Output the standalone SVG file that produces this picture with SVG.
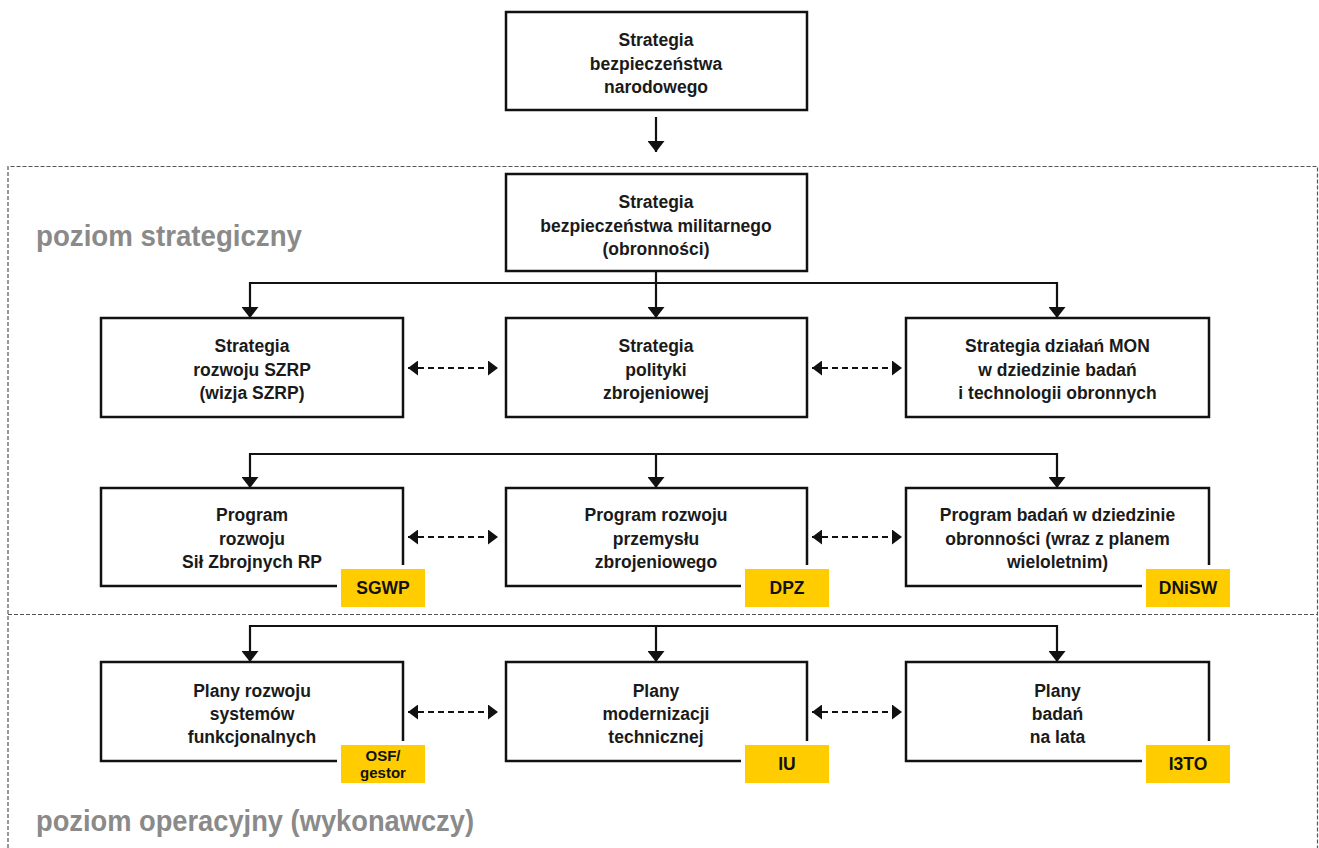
<svg xmlns="http://www.w3.org/2000/svg" width="1319" height="848" viewBox="0 0 1319 848">
<style>
  .box { fill: #ffffff; stroke: #111111; stroke-width: 2.5; }
  .t { font-family: "Liberation Sans", Arial, sans-serif; font-weight: bold; font-size: 17.5px; fill: #1a1a1a; text-anchor: middle; }
  .tag { fill: #FFCC00; stroke: #ffffff; stroke-width: 4; }
  .tagt { font-family: "Liberation Sans", Arial, sans-serif; font-weight: bold; font-size: 17.5px; fill: #111111; text-anchor: middle; }
  .tags { font-family: "Liberation Sans", Arial, sans-serif; font-weight: bold; font-size: 15px; fill: #111111; text-anchor: middle; }
  .lvl { font-family: "Liberation Sans", Arial, sans-serif; font-weight: bold; font-size: 30px; fill: #8a8a8a; }
  .solid { fill: none; stroke: #111111; stroke-width: 2.2; }
  .arr { fill: none; stroke: #111111; stroke-width: 2.2; marker-end: url(#ah); }
  .dash { fill: none; stroke: #111111; stroke-width: 2; stroke-dasharray: 6 4; marker-start: url(#dh); marker-end: url(#dh); }
  .region { fill: none; stroke: #555555; stroke-width: 1.2; stroke-dasharray: 4 2; }
</style>
<defs>
  <marker id="ah" markerUnits="userSpaceOnUse" markerWidth="11" markerHeight="17" refX="11" refY="8.5" orient="auto">
    <path d="M0,0 L11,8.5 L0,17 z" fill="#111111"/>
  </marker>
  <marker id="dh" markerUnits="userSpaceOnUse" markerWidth="10" markerHeight="15" refX="10" refY="7.5" orient="auto-start-reverse">
    <path d="M0,0 L10,7.5 L0,15 z" fill="#111111"/>
  </marker>
</defs>
<rect width="1319" height="848" fill="#ffffff"/>

<g id="regions">
  <path class="region" d="M8,860 L8,166.5 L1317.5,166.5 L1317.5,860"/>
  <line class="region" x1="8" y1="614.5" x2="1317.5" y2="614.5"/>
  <text class="lvl" x="36" y="246" textLength="266" lengthAdjust="spacingAndGlyphs">poziom strategiczny</text>
  <text class="lvl" x="36" y="831" textLength="438" lengthAdjust="spacingAndGlyphs">poziom operacyjny (wykonawczy)</text>
</g>

<g id="connectors">
  <line class="arr" x1="656" y1="117" x2="656" y2="152"/>
  <line class="solid" x1="656" y1="271" x2="656" y2="283"/>
  <line class="solid" x1="250" y1="283" x2="1057" y2="283"/>
  <line class="arr" x1="250" y1="282" x2="250" y2="318"/>
  <line class="arr" x1="656" y1="282" x2="656" y2="318"/>
  <line class="arr" x1="1057" y1="282" x2="1057" y2="318"/>
  <line class="solid" x1="250" y1="454" x2="1057" y2="454"/>
  <line class="arr" x1="250" y1="453" x2="250" y2="488"/>
  <line class="arr" x1="656" y1="453" x2="656" y2="488"/>
  <line class="arr" x1="1057" y1="453" x2="1057" y2="488"/>
  <line class="solid" x1="250" y1="626" x2="1057" y2="626"/>
  <line class="arr" x1="250" y1="625" x2="250" y2="662"/>
  <line class="arr" x1="656" y1="625" x2="656" y2="662"/>
  <line class="arr" x1="1057" y1="625" x2="1057" y2="662"/>
  <line class="dash" x1="408" y1="368" x2="498" y2="368"/>
  <line class="dash" x1="812" y1="368" x2="902" y2="368"/>
  <line class="dash" x1="408" y1="537" x2="498" y2="537"/>
  <line class="dash" x1="812" y1="537" x2="902" y2="537"/>
  <line class="dash" x1="408" y1="712" x2="498" y2="712"/>
  <line class="dash" x1="812" y1="712" x2="902" y2="712"/>
</g>

<g id="n-sbn">
  <rect class="box" x="506" y="12" width="301" height="98"/>
  <text class="t" x="656" y="46">Strategia</text>
  <text class="t" x="656" y="69.5">bezpieczeństwa</text>
  <text class="t" x="656" y="93">narodowego</text>
</g>
<g id="n-sbm">
  <rect class="box" x="506" y="174" width="301" height="97"/>
  <text class="t" x="656" y="208">Strategia</text>
  <text class="t" x="656" y="231.5">bezpieczeństwa militarnego</text>
  <text class="t" x="656" y="255">(obronności)</text>
</g>

<g id="n-srszrp">
  <rect class="box" x="101" y="318" width="302" height="99"/>
  <text class="t" x="252" y="352">Strategia</text>
  <text class="t" x="252" y="375.5">rozwoju SZRP</text>
  <text class="t" x="252" y="399">(wizja SZRP)</text>
</g>
<g id="n-spz">
  <rect class="box" x="506" y="318" width="301" height="99"/>
  <text class="t" x="656" y="352">Strategia</text>
  <text class="t" x="656" y="375.5">polityki</text>
  <text class="t" x="656" y="399">zbrojeniowej</text>
</g>
<g id="n-sdmon">
  <rect class="box" x="906" y="318" width="303" height="99"/>
  <text class="t" x="1057.5" y="352">Strategia działań MON</text>
  <text class="t" x="1057.5" y="375.5">w dziedzinie badań</text>
  <text class="t" x="1057.5" y="399">i technologii obronnych</text>
</g>

<g id="n-prszrp">
  <rect class="box" x="101" y="488" width="302" height="98"/>
  <text class="t" x="252" y="521">Program</text>
  <text class="t" x="252" y="545">rozwoju</text>
  <text class="t" x="252" y="568">Sił Zbrojnych RP</text>
  <rect class="tag" x="339" y="567" width="88" height="42"/>
  <text class="tagt" x="383" y="594">SGWP</text>
</g>
<g id="n-prpz">
  <rect class="box" x="506" y="488" width="301" height="98"/>
  <text class="t" x="656" y="521">Program rozwoju</text>
  <text class="t" x="656" y="545">przemysłu</text>
  <text class="t" x="656" y="568">zbrojeniowego</text>
  <rect class="tag" x="743" y="567" width="88" height="42"/>
  <text class="tagt" x="787" y="594">DPZ</text>
</g>
<g id="n-pbdo">
  <rect class="box" x="906" y="488" width="303" height="98"/>
  <text class="t" x="1057.5" y="521">Program badań w dziedzinie</text>
  <text class="t" x="1057.5" y="545">obronności (wraz z planem</text>
  <text class="t" x="1057.5" y="568">wieloletnim)</text>
  <rect class="tag" x="1144" y="567" width="88" height="42"/>
  <text class="tagt" x="1188" y="594">DNiSW</text>
</g>

<g id="n-prsf">
  <rect class="box" x="101" y="662" width="302" height="99"/>
  <text class="t" x="252" y="697">Plany rozwoju</text>
  <text class="t" x="252" y="720">systemów</text>
  <text class="t" x="252" y="743">funkcjonalnych</text>
  <rect class="tag" x="339" y="743" width="88" height="42"/>
  <text class="tags" x="383" y="761">OSF/</text>
  <text class="tags" x="383" y="778">gestor</text>
</g>
<g id="n-pmt">
  <rect class="box" x="506" y="662" width="301" height="99"/>
  <text class="t" x="656" y="697">Plany</text>
  <text class="t" x="656" y="720">modernizacji</text>
  <text class="t" x="656" y="743">technicznej</text>
  <rect class="tag" x="743" y="743" width="88" height="42"/>
  <text class="tagt" x="787" y="770">IU</text>
</g>
<g id="n-pbnl">
  <rect class="box" x="906" y="662" width="303" height="99"/>
  <text class="t" x="1057.5" y="697">Plany</text>
  <text class="t" x="1057.5" y="720">badań</text>
  <text class="t" x="1057.5" y="743">na lata</text>
  <rect class="tag" x="1144" y="743" width="88" height="42"/>
  <text class="tagt" x="1188" y="770">I3TO</text>
</g>
</svg>
